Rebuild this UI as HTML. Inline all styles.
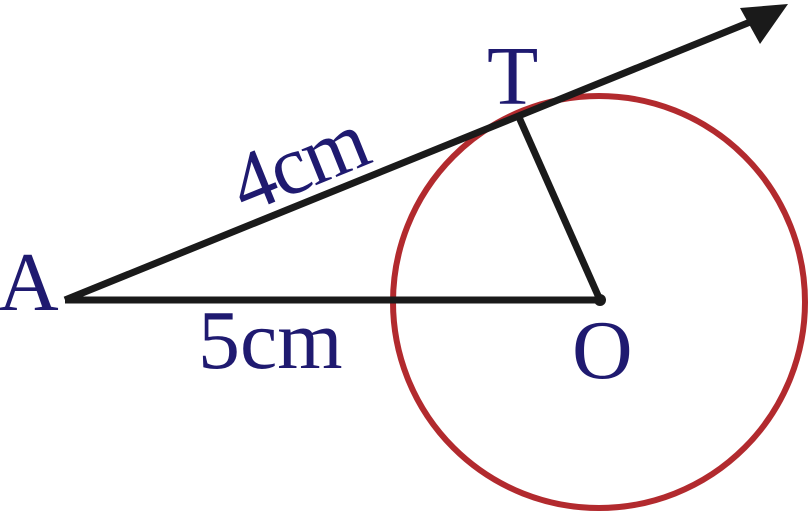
<!DOCTYPE html>
<html><head><style>html,body{margin:0;padding:0;background:#fff;}svg{display:block;}</style></head>
<body>
<svg width="808" height="512" viewBox="0 0 808 512" xmlns="http://www.w3.org/2000/svg">
<circle cx="599" cy="302" r="206" fill="none" stroke="#b22a2e" stroke-width="6"/>
<line x1="65" y1="300" x2="600" y2="300" stroke="#1a1a1a" stroke-width="7"/>
<line x1="600" y1="300" x2="518" y2="115" stroke="#1a1a1a" stroke-width="7"/>
<line x1="65" y1="300" x2="760" y2="18" stroke="#1a1a1a" stroke-width="7"/>
<polygon points="788,4 740,8 760,44" fill="#1a1a1a"/>
<circle cx="600" cy="300" r="6" fill="#1a1a1a"/>
<g font-family="Liberation Serif, serif" fill="#1f1a70" font-size="84">
<text x="-2" y="310">A</text>
<text x="487" y="104">T</text>
<text x="572" y="378">O</text>
<text x="198" y="368">5cm</text>
<text x="299" y="190" text-anchor="middle" transform="rotate(-22 299 164)" letter-spacing="-2">4cm</text>
</g>
</svg>
</body></html>
